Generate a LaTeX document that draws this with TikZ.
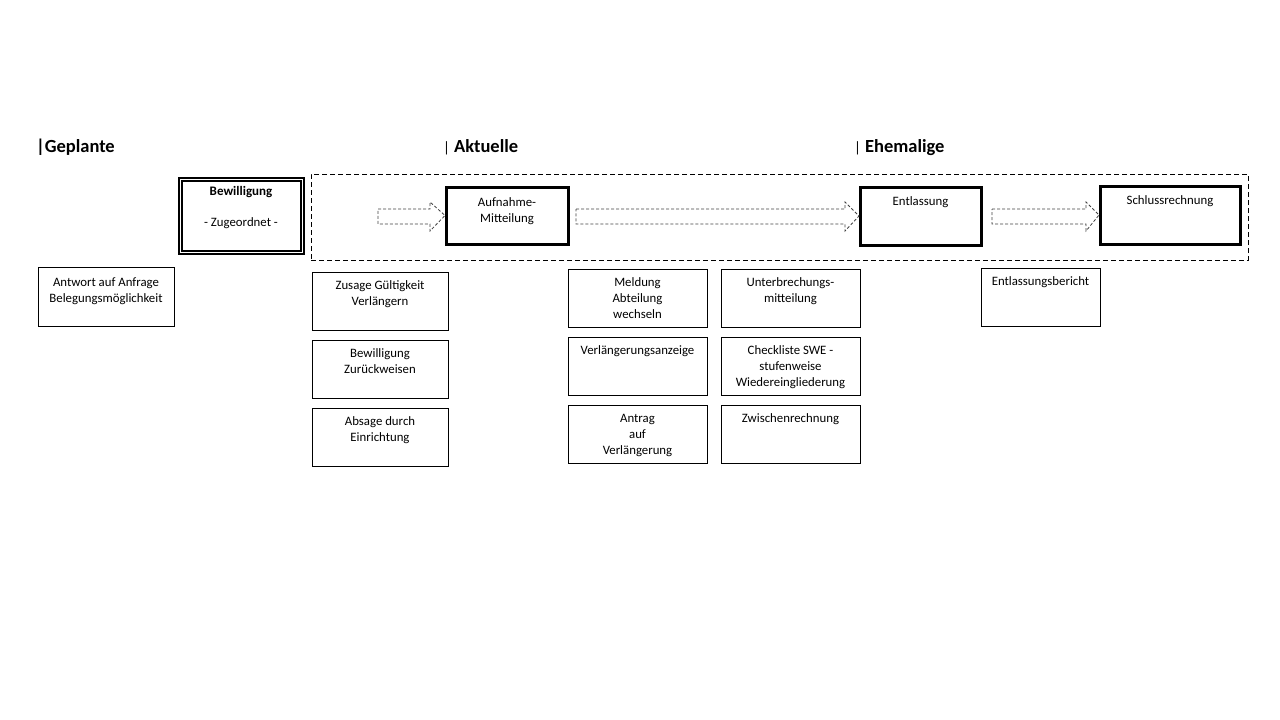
\documentclass[tikz,border=0pt]{standalone}
\usepackage{fontspec}
\setmainfont{Carlito}
\usetikzlibrary{calc}
\begin{document}
\begin{tikzpicture}[x=1pt,y=-1pt,
  every node/.style={inner sep=0pt,outer sep=0pt},
  head/.style={anchor=base west,font=\fontsize{18.5}{20}\selectfont\bfseries},
  doc/.style={draw,line width=0.9pt,rectangle,anchor=north west},
  lbl/.style={anchor=north,align=center,font=\fontsize{12.8}{16}\selectfont},
  thick box/.style={draw,line width=3pt,rectangle,anchor=north west},
  blockarrow/.style={draw=black!75,dash pattern=on 3pt off 2pt,line width=0.8pt}]
\useasboundingbox (0,0) rectangle (1280,720);
% headings
\node[head] (hg) at (36,152) {|Geplante};
\node[head] (ha) at (443,152) {{\mdseries\fontsize{15}{18}\selectfont|} Aktuelle};
\node[head] (he) at (854,152) {{\mdseries\fontsize{15}{18}\selectfont|} Ehemalige};
% dashed container
\node[draw,line width=0.8pt,dash pattern=on 5pt off 3pt,anchor=north west,minimum width=937pt,minimum height=86pt] (cont) at (311,174) {};
% Bewilligung double box
\node[doc,minimum width=125pt,minimum height=76pt,line width=1.2pt] (bew) at (179,178) {};
\node[draw,line width=1.2pt,anchor=north west,minimum width=119pt,minimum height=70pt] (bewin) at (182,181) {};
\node[lbl,font=\fontsize{13}{16}\selectfont\bfseries] (bewt) at (241,186) {Bewilligung};
\node[lbl] (bewt2) at (241,218) {- Zugeordnet -};
% main thick boxes
\node[thick box,minimum width=122pt,minimum height=57pt] (auf) at (446,187) {};
\node[lbl] at (auf.north) [yshift=-11pt] {Aufnahme-\\Mitteilung};
\node[thick box,minimum width=121pt,minimum height=58pt] (ent) at (860,187) {};
\node[lbl] at (ent.north) [yshift=-10pt] {Entlassung};
\node[thick box,minimum width=140pt,minimum height=58pt] (sch) at (1100,186) {};
\node[lbl] at (sch.north) [yshift=-10pt] {Schlussrechnung};
% block arrows
\coordinate (a1s) at (378,216.5);
\draw[blockarrow] (a1s) ++(0,-7.5) -- (430,209) -- (430,202) -- ($(auf.west)+(-1,0)$) -- (430,231) -- (430,224) -- (378,224) -- cycle;
\draw[blockarrow] (576,209) -- (845,209) -- (845,202) -- ($(ent.west)+(-1,0)$) -- (845,231) -- (845,224) -- (576,224) -- cycle;
\draw[blockarrow] (992,209) -- (1086,209) -- (1086,202) -- ($(sch.west)+(-1,0)$) -- (1086,231) -- (1086,224) -- (992,224) -- cycle;
% document boxes
\node[doc,minimum width=136pt,minimum height=59pt] (ant) at (38,267) {};
\node[lbl] at (ant.north) [yshift=-11pt] {Antwort auf Anfrage\\Belegungsmöglichkeit};
\node[doc,minimum width=136pt,minimum height=58pt] (zus) at (312,272) {};
\node[lbl] at (zus.north) [yshift=-9pt] {Zusage Gültigkeit\\Verlängern};
\node[doc,minimum width=136pt,minimum height=58pt] (bzu) at (312,340) {};
\node[lbl] at (bzu.north) [yshift=-9pt] {Bewilligung\\Zurückweisen};
\node[doc,minimum width=136pt,minimum height=58pt] (abs) at (312,408) {};
\node[lbl] at (abs.north) [yshift=-9pt] {Absage durch\\Einrichtung};
\node[doc,minimum width=139pt,minimum height=58pt] (mel) at (568,269) {};
\node[lbl] at (mel.north) [yshift=-9pt] {Meldung\\Abteilung\\wechseln};
\node[doc,minimum width=139pt,minimum height=58pt] (ver) at (568,337) {};
\node[lbl] at (ver.north) [yshift=-9pt] {Verlängerungsanzeige};
\node[doc,minimum width=139pt,minimum height=58pt] (antr) at (568,405) {};
\node[lbl] at (antr.north) [yshift=-9pt] {Antrag\\auf\\Verlängerung};
\node[doc,minimum width=139pt,minimum height=58pt] (unt) at (721,269) {};
\node[lbl] at (unt.north) [yshift=-9pt] {Unterbrechungs-\\mitteilung};
\node[doc,minimum width=139pt,minimum height=58pt] (che) at (721,337) {};
\node[lbl] at (che.north) [yshift=-9pt] {Checkliste SWE -\\stufenweise\\Wiedereingliederung};
\node[doc,minimum width=139pt,minimum height=58pt] (zwi) at (721,405) {};
\node[lbl] at (zwi.north) [yshift=-9pt] {Zwischenrechnung};
\node[doc,minimum width=119pt,minimum height=58pt] (eb) at (981,268) {};
\node[lbl] at (eb.north) [yshift=-9pt] {Entlassungsbericht};
\end{tikzpicture}
\end{document}
